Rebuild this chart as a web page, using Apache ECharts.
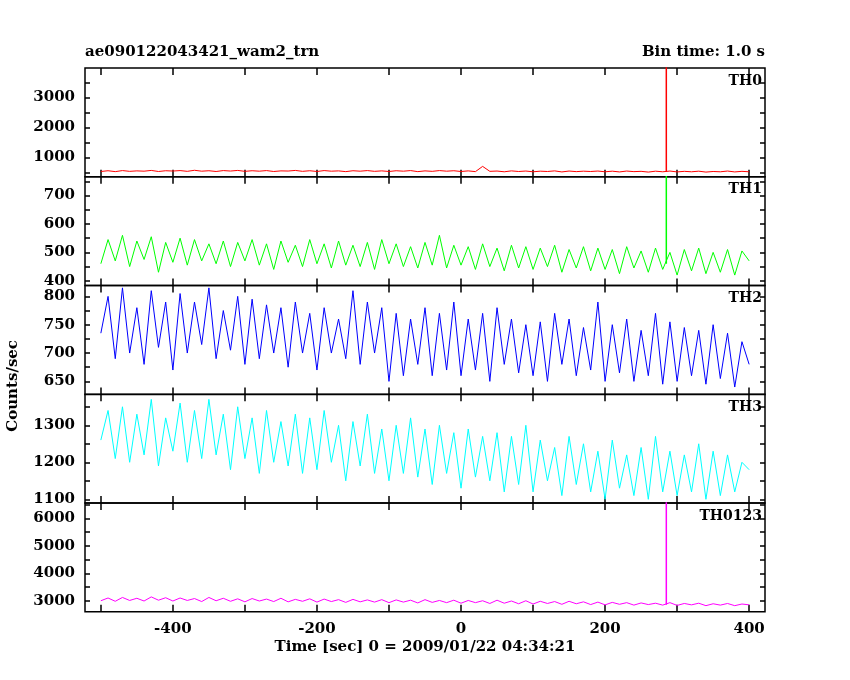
<!DOCTYPE html>
<html>
<head>
<meta charset="utf-8">
<script src="https://cdn.jsdelivr.net/npm/echarts@6/dist/echarts.min.js"></script>
<style>html,body{margin:0;padding:0;background:#fff}#main{width:850px;height:680px}</style>
</head>
<body>
<div id="main"></div>
<script>
// 10 s samples from -500 s to +400 s
var tStart = -500, tStep = 10;

var th0 = [530,555,525,560,535,550,540,565,530,555, 545,560,535,570,540,555,530,560,545,565,
  535,555,540,560,530,550,545,565,535,555, 530,560,540,550,525,555,540,560,535,550,
  530,555,540,560,525,550,535,560,540,555, 530,550,525,700,535,545,520,550,530,545,
  520,540,530,550,515,545,525,540,530,545, 520,540,515,545,525,535,510,540,520,545,
  515,535,520,540,510,530,520,545,515,535, 520];
var th1 = [460,545,470,560,450,540,475,555,430,535, 465,550,455,545,470,530,460,540,450,535,
  470,545,455,530,440,540,465,525,450,545, 460,530,445,540,455,525,450,535,440,545,
  460,530,450,520,445,535,455,560,445,525, 455,520,440,530,450,515,435,525,445,520,
  440,515,450,525,430,510,445,520,435,515, 440,510,425,520,445,505,430,515,440,500,
  420,510,435,515,425,500,430,510,420,505, 470];
var th2 = [735,800,690,815,700,780,680,810,710,790, 670,805,700,790,715,815,690,775,705,800,
  680,795,690,785,700,780,675,790,700,770, 670,780,700,760,690,810,680,790,700,780,
  650,770,660,760,680,780,660,770,670,790, 660,760,670,770,650,780,680,760,665,750,
  660,755,650,770,680,760,660,745,670,790, 650,750,665,760,650,740,660,770,645,755,
  650,745,660,740,645,750,655,735,640,720, 680];
var th3 = [1260,1340,1210,1350,1200,1330,1220,1370,1190,1320, 1230,1360,1200,1340,1210,1370,1220,1330,1180,1350,
  1210,1320,1170,1340,1200,1310,1190,1330,1170,1320, 1180,1340,1200,1300,1150,1310,1190,1330,1170,1290,
  1150,1300,1170,1320,1160,1290,1140,1300,1170,1280, 1130,1290,1160,1270,1150,1280,1120,1270,1140,1300,
  1120,1260,1150,1240,1110,1270,1140,1250,1120,1230, 1100,1260,1130,1220,1110,1240,1100,1270,1120,1230,
  1110,1220,1120,1250,1100,1230,1110,1220,1120,1200, 1180];
var th0123 = [3000,3100,2980,3120,3010,3090,2990,3140,3020,3110, 2990,3100,3010,3080,2970,3120,3000,3090,2980,3070,
  2960,3080,2990,3060,2970,3090,2960,3050,2980,3070, 2950,3060,2970,3040,2940,3050,2960,3030,2950,3040,
  2930,3030,2950,3020,2920,3040,2940,3010,2930,3020, 2910,3010,2930,3000,2900,3020,2910,2990,2890,3000,
  2880,2980,2900,2970,2870,2980,2890,2960,2860,2950, 2850,2940,2870,2930,2840,2920,2860,2910,2840,2930,
  2830,2900,2850,2910,2820,2890,2840,2900,2820,2880, 2850];

// spike at t=285 s
var spikeTime = 285;
var spikeBase = [520, 460, null, null, 2850];
var spikeTop = [4500, 900, null, null, 7500];

var names = ['TH0', 'TH1', 'TH2', 'TH3', 'TH0123'];
var colors = ['#ff0000', '#00ff00', '#0000ff', '#00ffff', '#ff00ff'];
var values = [th0, th1, th2, th3, th0123];
var yMin = [353, 383, 627, 1090, 2600];
var yMax = [3977, 766, 819, 1384, 6570];
var yLabels = [[1000, 2000, 3000], [400, 500, 600, 700], [650, 700, 750, 800], [1100, 1200, 1300], [3000, 4000, 5000, 6000]];
var yTicks = [[500, 1000, 1500, 2000, 2500, 3000, 3500],
  [400, 450, 500, 550, 600, 650, 700, 750],
  [650, 675, 700, 725, 750, 775, 800],
  [1100, 1150, 1200, 1250, 1300, 1350],
  [3000, 3500, 4000, 4500, 5000, 5500, 6000, 6500]];
var xLabels = [-400, -200, 0, 200, 400];
var xTicks = [-500, -400, -300, -200, -100, 0, 100, 200, 300, 400];

var font = 'DejaVu Serif';
var tops = [68, 176.8, 285.6, 394.2, 502.9];
var h = 108.8;

var grids = [], xAxes = [], yAxes = [], series = [], texts = [];
names.forEach(function (n, i) {
  grids.push({ left: 85, width: 680, top: tops[i], height: h, show: true, borderColor: '#000', borderWidth: 1.5 });
  ['bottom', 'top'].forEach(function (pos) {
    xAxes.push({
      type: 'value', gridIndex: i, position: pos, min: -522, max: 422,
      axisLine: { show: false, onZero: false }, splitLine: { show: false },
      axisTick: { inside: true, length: 7, lineStyle: { color: '#000', width: 1.5 }, customValues: xTicks },
      axisLabel: { show: pos === 'bottom' && i === 4, customValues: xLabels, formatter: function (v) { return String(v); },
        color: '#000', fontFamily: font, fontWeight: 'bold', fontSize: 15, margin: 10 }
    });
  });
  ['left', 'right'].forEach(function (pos) {
    yAxes.push({
      type: 'value', gridIndex: i, position: pos, min: yMin[i], max: yMax[i],
      axisLine: { show: false, onZero: false }, splitLine: { show: false },
      axisTick: { inside: true, length: 5, lineStyle: { color: '#000', width: 1.5 }, customValues: yTicks[i] },
      axisLabel: { show: pos === 'left', customValues: yLabels[i], formatter: function (v) { return String(v); },
        color: '#000', fontFamily: font, fontWeight: 'bold', fontSize: 15, margin: 10 }
    });
  });
  var data = values[i].map(function (v, k) { return [tStart + k * tStep, v]; });
  series.push({
    type: 'line', xAxisIndex: i * 2, yAxisIndex: i * 2, data: data, symbol: 'none',
    lineStyle: { color: colors[i], width: 1 }, clip: true, animation: false
  });
  if (spikeTop[i] !== null) {
    series.push({
      type: 'line', xAxisIndex: i * 2, yAxisIndex: i * 2,
      data: [[spikeTime, spikeBase[i]], [spikeTime, spikeTop[i]]], symbol: 'none',
      lineStyle: { color: colors[i], width: 1.5 }, clip: true, animation: false
    });
  }
  texts.push({ type: 'text', right: 850 - 762, top: tops[i] + 6,
    style: { text: n, font: 'bold 14px "' + font + '"', fill: '#000' } });
});

texts.push({ type: 'text', left: 85, top: 45, style: { text: 'ae090122043421_wam2_trn', font: 'bold 15px "' + font + '"', fill: '#000' } });
texts.push({ type: 'text', right: 85, top: 45, style: { text: 'Bin time: 1.0 s', font: 'bold 15px "' + font + '"', fill: '#000' } });
texts.push({ type: 'text', left: 'center', top: 640, style: { text: 'Time [sec] 0 = 2009/01/22 04:34:21', font: 'bold 15px "' + font + '"', fill: '#000' } });
texts.push({ type: 'text', left: 6, top: 340, rotation: Math.PI / 2, style: { text: 'Counts/sec', font: 'bold 15px "' + font + '"', fill: '#000', align: 'center', verticalAlign: 'middle' } });

var chart = echarts.init(document.getElementById('main'));
chart.setOption({
  backgroundColor: '#fff',
  animation: false,
  grid: grids,
  xAxis: xAxes,
  yAxis: yAxes,
  series: series,
  graphic: texts
});
</script>
</body>
</html>
